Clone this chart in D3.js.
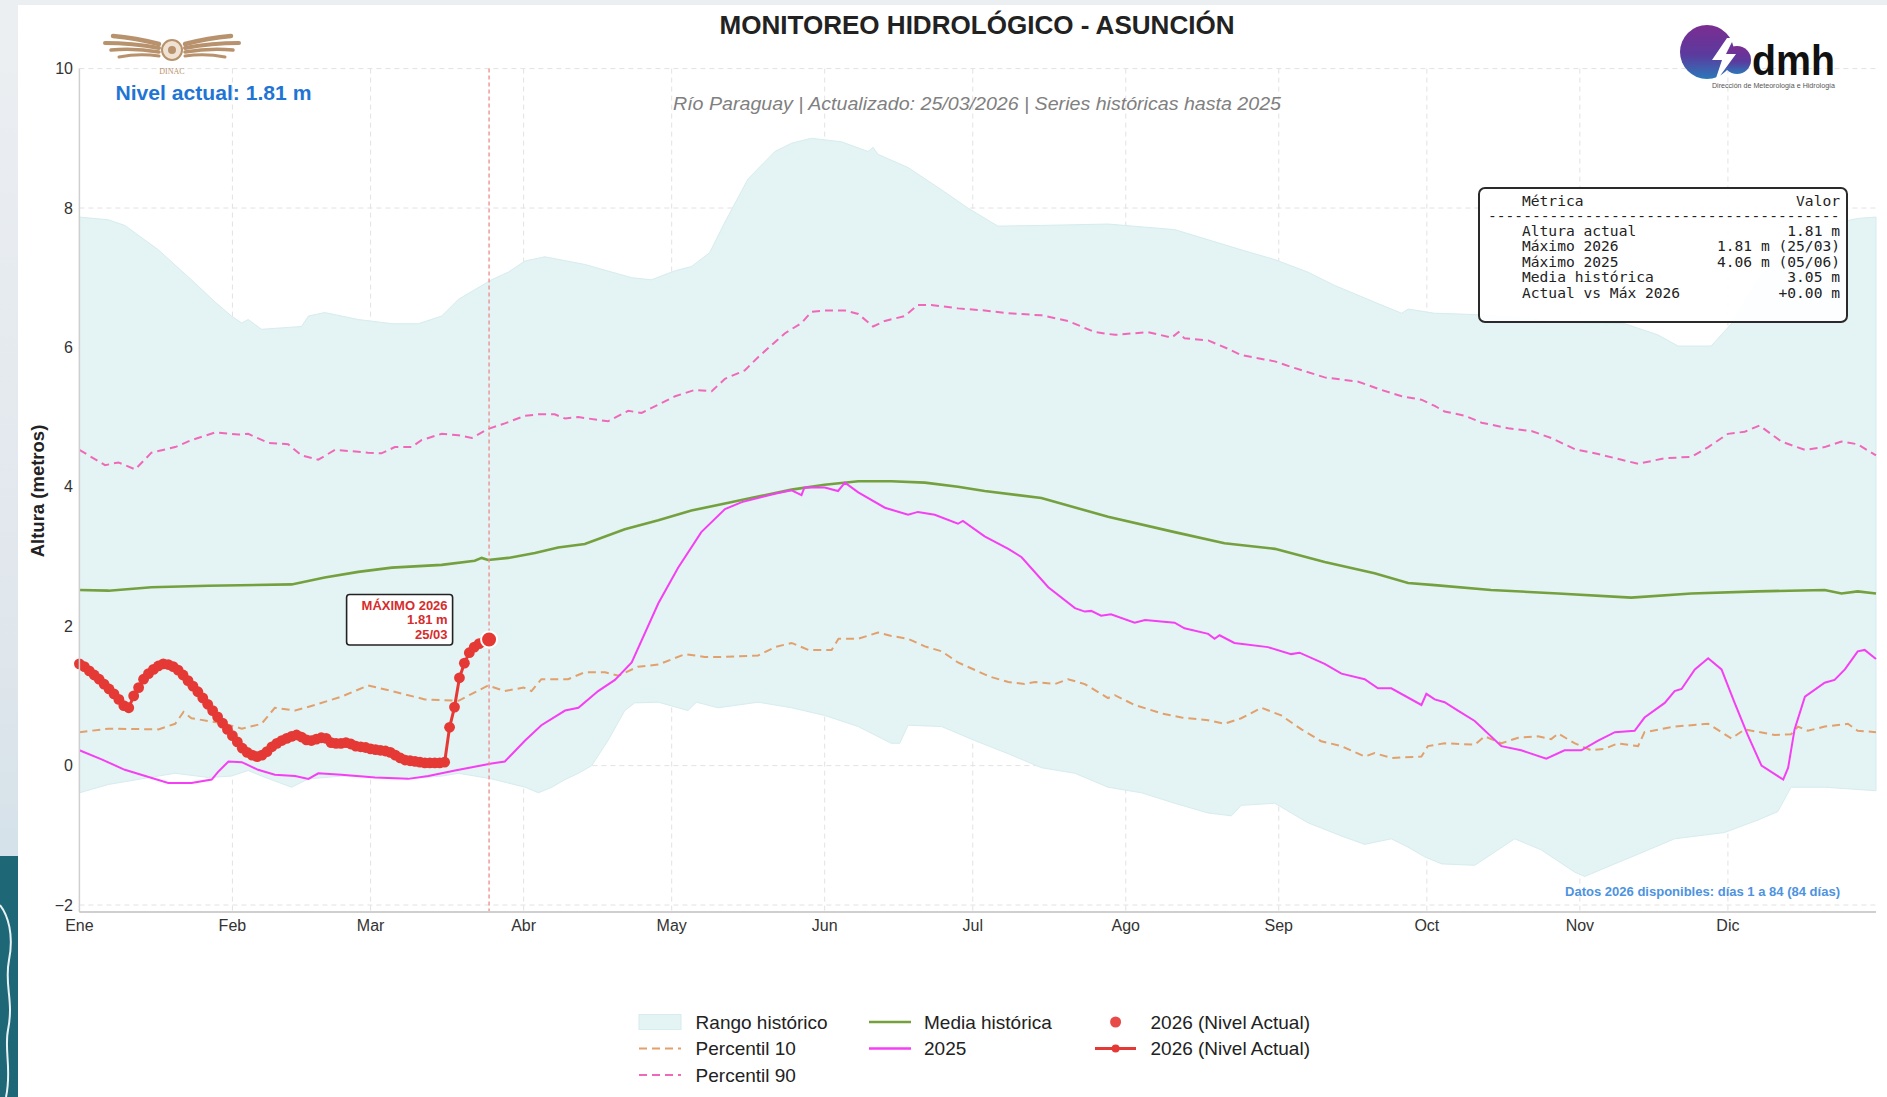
<!DOCTYPE html>
<html>
<head>
<meta charset="utf-8">
<script src="https://cdn.jsdelivr.net/npm/d3@7"></script>
<style>
  body { margin: 0; background: #eef1f4; }
  svg { display: block; }
</style>
</head>
<body>
<div id="chart-container"></div>
<script>
// dias del año (0 = 1 de enero) y niveles en metros
const monthNames = ["Ene", "Feb", "Mar", "Abr", "May", "Jun", "Jul", "Ago", "Sep", "Oct", "Nov", "Dic"];
const monthStarts = [0, 31, 59, 90, 120, 151, 181, 212, 243, 273, 304, 334];
const yTicks = [-2, 0, 2, 4, 6, 8, 10];

const rangoMax = [[0,7.87],[5.9,7.83],[9.2,7.75],[16,7.4],[22.7,6.97],[27.5,6.65],[30.8,6.45],[32.9,6.35],[34.2,6.4],[36.9,6.26],[45,6.3],[46.4,6.45],[49.7,6.5],[56.5,6.4],[63.3,6.34],[68.7,6.34],[73.4,6.45],[76.8,6.69],[83.5,6.97],[86.9,7.08],[90.3,7.24],[94.3,7.3],[102.4,7.19],[111.9,7.0],[115.9,6.97],[120.7,7.1],[124,7.16],[127.7,7.36],[130.8,7.8],[135.5,8.42],[140.9,8.81],[144.3,8.93],[148.3,9.0],[154.4,8.95],[159.8,8.81],[160.8,8.87],[161.8,8.77],[167.9,8.58],[174.7,8.26],[180,8.0],[186.1,7.74],[194.9,7.75],[208.4,7.77],[221.9,7.69],[235.4,7.4],[242.2,7.26],[248.9,7.08],[254.3,6.89],[262.4,6.65],[267.9,6.49],[269.2,6.55],[274.6,6.49],[279.3,6.48],[286,6.46],[292.8,6.42],[299.6,6.36],[313.1,6.34],[319.8,6.18],[323.9,6.02],[330.6,6.02],[334.7,6.34],[340.1,6.97],[346.8,7.52],[353.6,7.75],[360.3,7.85],[364,7.87]];
const rangoMin = [[0,-0.39],[5.9,-0.27],[12.6,-0.19],[19.4,-0.11],[26.1,-0.17],[30.8,-0.15],[34.2,-0.07],[36.9,-0.15],[43,-0.31],[46.4,-0.19],[53.1,-0.15],[59.9,-0.15],[66.6,-0.19],[73.4,-0.15],[76.8,-0.11],[83.5,-0.19],[90.3,-0.31],[93,-0.39],[95.7,-0.31],[98.4,-0.2],[101.1,-0.11],[103.8,0.0],[107.1,0.36],[110.5,0.79],[112.5,0.9],[117.3,0.91],[123.3,0.79],[125,0.91],[129.4,0.83],[137.5,0.91],[144.3,0.83],[151,0.72],[157.8,0.56],[164.5,0.32],[166.2,0.32],[167.9,0.58],[174.7,0.56],[181.4,0.36],[188.2,0.17],[194.9,-0.03],[201.7,-0.11],[208.4,-0.31],[215.2,-0.39],[221.9,-0.54],[228.7,-0.68],[233.4,-0.72],[235.4,-0.57],[242.2,-0.54],[248.9,-0.82],[255.7,-1.01],[260.4,-1.13],[265.8,-1.05],[269.2,-1.17],[272.6,-1.31],[276,-1.41],[282.7,-1.43],[290.8,-1.05],[296.2,-1.21],[303,-1.53],[305,-1.59],[309.7,-1.45],[316.5,-1.25],[323.2,-1.05],[333.3,-0.96],[340.1,-0.78],[344.1,-0.66],[346.8,-0.31],[353.6,-0.31],[364,-0.36]];
const percentil90 = [[0,4.53],[5.2,4.31],[7.9,4.35],[11.3,4.25],[14.6,4.49],[19.4,4.57],[22.7,4.67],[27.5,4.78],[32.2,4.75],[34.2,4.76],[38.3,4.63],[42.3,4.61],[45,4.45],[48.4,4.39],[51.8,4.53],[58.5,4.49],[61.2,4.48],[63.9,4.57],[67.3,4.57],[69.3,4.67],[73.4,4.76],[76.8,4.74],[79.5,4.7],[82.8,4.83],[86.2,4.91],[90.3,5.02],[93,5.04],[96.3,5.04],[98.4,4.98],[101.1,5.0],[107.1,4.94],[111.2,5.09],[113.9,5.06],[120.7,5.3],[124.7,5.39],[128.1,5.37],[130.8,5.55],[134.8,5.67],[137.5,5.86],[142.9,6.2],[146.3,6.35],[148.3,6.51],[151,6.53],[155.1,6.53],[157.8,6.48],[160.8,6.3],[163.2,6.38],[167.2,6.45],[169.9,6.61],[172.6,6.61],[178,6.56],[183.4,6.53],[188.2,6.49],[194.9,6.46],[200.3,6.38],[205.7,6.22],[209.8,6.18],[216.5,6.22],[221.3,6.14],[222.7,6.22],[223.9,6.13],[228.7,6.1],[232.7,5.98],[235.4,5.89],[242.2,5.8],[245.5,5.72],[252.3,5.57],[259,5.51],[263.8,5.39],[267.9,5.3],[271.9,5.25],[274.6,5.16],[276.6,5.08],[280.7,5.02],[284.1,4.92],[289.5,4.84],[294.2,4.8],[298.2,4.7],[303,4.54],[307.7,4.47],[315.8,4.33],[321.2,4.41],[326.6,4.43],[330,4.57],[334,4.76],[337.4,4.79],[340.4,4.88],[344.8,4.65],[349.6,4.53],[353.6,4.57],[357,4.65],[360.3,4.61],[364,4.45]];
const percentil10 = [[0,0.48],[5.9,0.53],[16,0.52],[19.4,0.6],[21.1,0.77],[22.7,0.68],[29.5,0.6],[32.9,0.53],[36.9,0.6],[39.6,0.83],[43.7,0.79],[47.7,0.87],[53.1,0.99],[58.5,1.15],[63.3,1.07],[70,0.95],[76.8,0.93],[79.5,1.03],[82.8,1.15],[86.2,1.07],[90,1.12],[91.6,1.07],[93.6,1.24],[99,1.24],[102.4,1.34],[106.5,1.34],[109.2,1.29],[113.2,1.42],[117.3,1.45],[122.7,1.6],[126.7,1.56],[130.8,1.56],[137.5,1.58],[140.9,1.7],[144.3,1.76],[147.7,1.66],[152.4,1.66],[153.8,1.82],[157.8,1.82],[161.8,1.91],[164.5,1.86],[167.9,1.82],[171.3,1.71],[174.7,1.64],[178,1.48],[183.4,1.31],[184.8,1.27],[188.2,1.2],[191.5,1.17],[193.6,1.2],[197.6,1.17],[200.3,1.24],[203.7,1.17],[208.4,0.97],[209.8,1.01],[213.8,0.87],[219.2,0.75],[223.3,0.69],[228.7,0.65],[232,0.6],[235.4,0.68],[239.5,0.83],[243.5,0.72],[247.6,0.52],[251.6,0.35],[255.7,0.28],[260.4,0.13],[262.4,0.18],[265.8,0.11],[271.9,0.13],[273.2,0.28],[276.6,0.32],[282.7,0.3],[284.7,0.42],[288.1,0.32],[291.5,0.4],[295.5,0.42],[298.2,0.38],[299.6,0.46],[303,0.32],[306.3,0.22],[309,0.24],[311.7,0.32],[315.8,0.28],[317.1,0.48],[323.2,0.56],[330,0.6],[334.7,0.39],[337.4,0.52],[343.5,0.44],[346.8,0.45],[348.2,0.56],[350.2,0.5],[353.6,0.56],[358.3,0.6],[360.3,0.5],[364,0.48]];
const mediaHistorica = [[0,2.52],[5.9,2.51],[14.6,2.56],[26.1,2.58],[43,2.6],[49.7,2.7],[56.5,2.78],[63.3,2.84],[73.4,2.88],[80.1,2.94],[81.5,2.98],[82.8,2.95],[86.9,2.98],[92.3,3.05],[97,3.13],[102.4,3.18],[110.5,3.39],[117.3,3.52],[124,3.66],[130.8,3.76],[137.5,3.86],[144.3,3.96],[151,4.03],[157.8,4.08],[164.5,4.08],[171.3,4.06],[178,4.0],[183.4,3.94],[194.9,3.84],[208.4,3.57],[221.9,3.35],[232,3.19],[242.2,3.11],[252.3,2.92],[262.4,2.76],[269.2,2.62],[274.6,2.59],[286,2.52],[299.6,2.47],[314.4,2.41],[326.6,2.47],[340.1,2.5],[353.6,2.52],[357,2.47],[360.3,2.5],[364,2.47]];
const serie2025 = [[0,0.22],[4.5,0.09],[9.2,-0.06],[18,-0.25],[22.7,-0.25],[26.8,-0.2],[28.1,-0.09],[30.2,0.06],[32.9,0.05],[36.2,-0.06],[39.6,-0.13],[43.7,-0.15],[46.4,-0.19],[48.4,-0.11],[53.1,-0.13],[59.9,-0.17],[66.6,-0.19],[70.7,-0.15],[76.1,-0.07],[83.5,0.03],[86.2,0.06],[90.3,0.36],[93.6,0.58],[98.4,0.79],[101.1,0.83],[105.1,1.07],[108.5,1.23],[111.9,1.48],[117.3,2.33],[121.3,2.84],[126,3.35],[130.8,3.68],[134.2,3.78],[140.9,3.9],[144.3,3.95],[146.3,3.88],[146.9,3.99],[151,3.99],[153.7,3.94],[155.1,4.06],[157.8,3.92],[163.2,3.7],[167.9,3.6],[169.9,3.64],[173.3,3.6],[178,3.47],[179,3.51],[183.4,3.29],[188.2,3.11],[190.9,2.99],[196.3,2.56],[201.7,2.26],[203.7,2.21],[205,2.22],[207,2.15],[209,2.17],[213.8,2.05],[215.9,2.09],[221.9,2.05],[223.9,1.97],[228.7,1.89],[230,1.82],[231,1.87],[234,1.76],[240.8,1.7],[245.5,1.6],[247.2,1.62],[252.3,1.46],[255.7,1.32],[260.4,1.24],[263.1,1.11],[265.8,1.11],[271.9,0.87],[272.9,1.03],[274.6,0.95],[276.6,0.91],[279.3,0.79],[282.7,0.64],[288.1,0.28],[292.1,0.22],[297.2,0.1],[300.9,0.22],[304.3,0.22],[307.7,0.36],[311.1,0.48],[315.1,0.5],[317.1,0.69],[321.2,0.9],[323.2,1.07],[324.6,1.1],[327.3,1.38],[330,1.54],[332.7,1.38],[335.3,0.91],[338,0.44],[340.8,0.0],[345.2,-0.2],[346.2,-0.03],[347.5,0.52],[349.6,0.99],[353.6,1.19],[355.6,1.23],[357.7,1.38],[360.3,1.64],[361.7,1.66],[364,1.53]];
// 2026: un valor por dia, dias 1 a 84
const nivel2026 = [1.46,1.42,1.36,1.30,1.24,1.17,1.10,1.03,0.95,0.86,0.83,1.00,1.12,1.24,1.32,1.38,1.43,1.46,1.45,1.42,1.37,1.30,1.22,1.14,1.06,0.97,0.88,0.79,0.70,0.61,0.52,0.43,0.34,0.25,0.19,0.15,0.13,0.15,0.20,0.27,0.32,0.36,0.39,0.42,0.44,0.41,0.37,0.36,0.38,0.40,0.39,0.33,0.32,0.32,0.33,0.31,0.28,0.27,0.26,0.24,0.23,0.22,0.21,0.19,0.15,0.11,0.08,0.07,0.06,0.05,0.04,0.04,0.04,0.04,0.05,0.55,0.84,1.26,1.47,1.62,1.70,1.75,1.78,1.81];

const tableRows = [["Altura actual", "1.81 m"], ["Máximo 2026", "1.81 m (25/03)"], ["Máximo 2025", "4.06 m (05/06)"], ["Media histórica", "3.05 m"], ["Actual vs Máx 2026", "+0.00 m"]];

const width = 1887;
const height = 1097;
const sans = "'Liberation Sans', Arial, sans-serif";

const svg = d3.select("#chart-container").append("svg")
    .attr("width", width)
    .attr("height", height);

// fondo de la pagina (franja izquierda y superior)
const defs = svg.append("defs");
const bgGrad = defs.append("linearGradient").attr("id", "bg").attr("x1", 0).attr("x2", 0).attr("y1", 0).attr("y2", 1);
bgGrad.append("stop").attr("offset", "0%").attr("stop-color", "#eceff2");
bgGrad.append("stop").attr("offset", "60%").attr("stop-color", "#dfe6ec");
bgGrad.append("stop").attr("offset", "100%").attr("stop-color", "#c9dce6");
svg.append("rect").attr("width", width).attr("height", height).attr("fill", "url(#bg)");
svg.append("rect").attr("x", 0).attr("y", 856).attr("width", 18).attr("height", 241).attr("fill", "#1e6776");
svg.append("path")
    .attr("d", "M0,905 C8,915 14,935 9,960 C4,985 14,1000 8,1030 C4,1050 12,1070 6,1097")
    .attr("fill", "none").attr("stroke", "#e6f2f4").attr("stroke-width", 2);
svg.append("rect").attr("x", 18).attr("y", 5).attr("width", width - 18).attr("height", height - 5).attr("fill", "#ffffff");

const x = d3.scaleLinear().domain([0, 364]).range([79.4, 1876]);
const y = d3.scaleLinear().domain([-2.1, 10]).range([912, 68.6]);

// rejilla
svg.append("g")
    .selectAll("line")
    .data(yTicks)
    .join("line")
    .attr("x1", x(0)).attr("x2", x(364))
    .attr("y1", d => y(d)).attr("y2", d => y(d))
    .attr("stroke", "#e2e2e2").attr("stroke-width", 1).attr("stroke-dasharray", "5,4");
svg.append("g")
    .selectAll("line")
    .data(monthStarts.slice(1))
    .join("line")
    .attr("x1", d => x(d)).attr("x2", d => x(d))
    .attr("y1", y(10)).attr("y2", y(-2.1))
    .attr("stroke", "#e2e2e2").attr("stroke-width", 1).attr("stroke-dasharray", "5,4");

// rango historico
const line = d3.line().x(d => x(d[0])).y(d => y(d[1]));
svg.append("path")
    .attr("d", line(rangoMax.concat(rangoMin.slice().reverse())) + "Z")
    .attr("fill", "#e4f3f4")
    .attr("stroke", "#d6ecee")
    .attr("stroke-width", 1);

svg.append("path")
    .attr("d", line(percentil10))
    .attr("fill", "none").attr("stroke", "#e2a06c").attr("stroke-width", 2)
    .attr("stroke-dasharray", "8,5");
svg.append("path")
    .attr("d", line(percentil90))
    .attr("fill", "none").attr("stroke", "#f069b8").attr("stroke-width", 2)
    .attr("stroke-dasharray", "8,5");
svg.append("path")
    .attr("d", line(mediaHistorica))
    .attr("fill", "none").attr("stroke", "#74a03e").attr("stroke-width", 2.6);
svg.append("path")
    .attr("d", line(serie2025))
    .attr("fill", "none").attr("stroke", "#f43ff4").attr("stroke-width", 2);

// linea de fecha actual
const today = nivel2026.length - 1;
svg.append("line")
    .attr("x1", x(today)).attr("x2", x(today))
    .attr("y1", y(10)).attr("y2", y(-2.1))
    .attr("stroke", "#f08a8a").attr("stroke-width", 1.3).attr("stroke-dasharray", "4,3");

// 2026
const pts2026 = nivel2026.map((v, i) => [i, v]);
svg.append("path")
    .attr("d", line(pts2026))
    .attr("fill", "none").attr("stroke", "#e53935").attr("stroke-width", 3);
svg.append("g")
    .selectAll("circle")
    .data(pts2026.slice(0, -1))
    .join("circle")
    .attr("cx", d => x(d[0])).attr("cy", d => y(d[1]))
    .attr("r", 5.4)
    .attr("fill", "#e53935");
svg.append("circle")
    .attr("cx", x(today)).attr("cy", y(nivel2026[today]))
    .attr("r", 8)
    .attr("fill", "#e53935").attr("stroke", "#ffffff").attr("stroke-width", 2);

// anotacion maximo
svg.append("rect")
    .attr("x", 346.6).attr("y", 594.5).attr("width", 106).attr("height", 50.5)
    .attr("rx", 3).attr("fill", "#ffffff").attr("stroke", "#222").attr("stroke-width", 1.6);
svg.append("g")
    .selectAll("text")
    .data(["MÁXIMO 2026", "1.81 m", "25/03"])
    .join("text")
    .attr("x", 447.6).attr("y", (d, i) => 609.5 + i * 14.5)
    .attr("text-anchor", "end")
    .style("font", `bold 13px ${sans}`)
    .attr("fill", "#d62c2c")
    .text(d => d);

// ejes
svg.append("line").attr("x1", x(0)).attr("x2", x(0)).attr("y1", y(10)).attr("y2", y(-2.1))
    .attr("stroke", "#cfcfcf").attr("stroke-width", 1.5);
svg.append("line").attr("x1", x(0)).attr("x2", x(364)).attr("y1", y(-2.1)).attr("y2", y(-2.1))
    .attr("stroke", "#cfcfcf").attr("stroke-width", 2);

svg.append("g")
    .selectAll("text")
    .data(yTicks)
    .join("text")
    .attr("x", 73).attr("y", d => y(d))
    .attr("dy", "0.35em")
    .attr("text-anchor", "end")
    .style("font", `16px ${sans}`)
    .attr("fill", "#333")
    .text(d => d < 0 ? "\u2212" + Math.abs(d) : d);

svg.append("g")
    .selectAll("text")
    .data(monthStarts)
    .join("text")
    .attr("x", d => x(d)).attr("y", 925)
    .attr("dy", "0.35em")
    .attr("text-anchor", "middle")
    .style("font", `16px ${sans}`)
    .attr("fill", "#333")
    .text((d, i) => monthNames[i]);

svg.append("text")
    .attr("transform", "translate(37,491) rotate(-90)")
    .attr("text-anchor", "middle")
    .attr("dominant-baseline", "central")
    .style("font", `bold 18.5px ${sans}`)
    .attr("fill", "#222")
    .text("Altura (metros)");

// titulos
svg.append("text")
    .attr("x", 977).attr("y", 34)
    .attr("text-anchor", "middle")
    .attr("textLength", 515).attr("lengthAdjust", "spacingAndGlyphs")
    .style("font", `bold 25px ${sans}`)
    .attr("fill", "#222")
    .text("MONITOREO HIDROLÓGICO - ASUNCIÓN");
svg.append("text")
    .attr("x", 977).attr("y", 110)
    .attr("text-anchor", "middle")
    .attr("textLength", 608).attr("lengthAdjust", "spacingAndGlyphs")
    .style("font", `italic 18px ${sans}`)
    .attr("fill", "#808080")
    .text("Río Paraguay | Actualizado: 25/03/2026 | Series históricas hasta 2025");
svg.append("text")
    .attr("x", 115.5).attr("y", 100)
    .attr("textLength", 196).attr("lengthAdjust", "spacingAndGlyphs")
    .style("font", `bold 21px ${sans}`)
    .attr("fill", "#1f74d4")
    .text("Nivel actual: 1.81 m");
svg.append("text")
    .attr("x", 1840).attr("y", 896)
    .attr("text-anchor", "end")
    .attr("textLength", 275).attr("lengthAdjust", "spacingAndGlyphs")
    .style("font", `bold 12px ${sans}`)
    .attr("fill", "#4d93e0")
    .text("Datos 2026 disponibles: días 1 a 84 (84 días)");

// tabla de metricas
const mono = "'DejaVu Sans Mono', monospace";
svg.append("rect")
    .attr("x", 1479).attr("y", 188).attr("width", 368).attr("height", 134)
    .attr("rx", 6).attr("fill", "#ffffff").attr("fill-opacity", 0.92)
    .attr("stroke", "#2a2a2a").attr("stroke-width", 2);
svg.append("text").attr("x", 1522).attr("y", 205.5).style("font", `14.6px ${mono}`).attr("fill", "#222").text("Métrica");
svg.append("text").attr("x", 1840).attr("y", 205.5).attr("text-anchor", "end").style("font", `14.6px ${mono}`).attr("fill", "#222").text("Valor");
svg.append("text").attr("x", 1488).attr("y", 220.5).style("font", `14.6px ${mono}`).attr("fill", "#222").text("-".repeat(40));
const rows = svg.append("g")
    .selectAll("g")
    .data(tableRows)
    .join("g")
    .attr("transform", (d, i) => `translate(0,${235.5 + i * 15.6})`);
rows.append("text").attr("x", 1522).style("font", `14.6px ${mono}`).attr("fill", "#222").text(d => d[0]);
rows.append("text").attr("x", 1840).attr("text-anchor", "end").style("font", `14.6px ${mono}`).attr("fill", "#222").text(d => d[1]);

// leyenda
const legendRows = [1022, 1048.5, 1075];
const leg = svg.append("g").style("font", `19px ${sans}`).attr("fill", "#222");
leg.append("rect").attr("x", 639).attr("y", legendRows[0] - 7.5).attr("width", 42).attr("height", 15)
    .attr("fill", "#e4f3f4").attr("stroke", "#d6ecee");
leg.append("line").attr("x1", 639).attr("x2", 681).attr("y1", legendRows[1]).attr("y2", legendRows[1])
    .attr("stroke", "#e2a06c").attr("stroke-width", 2).attr("stroke-dasharray", "8,5");
leg.append("line").attr("x1", 639).attr("x2", 681).attr("y1", legendRows[2]).attr("y2", legendRows[2])
    .attr("stroke", "#f069b8").attr("stroke-width", 2).attr("stroke-dasharray", "8,5");
leg.append("line").attr("x1", 869).attr("x2", 911).attr("y1", legendRows[0]).attr("y2", legendRows[0])
    .attr("stroke", "#74a03e").attr("stroke-width", 2.6);
leg.append("line").attr("x1", 869).attr("x2", 911).attr("y1", legendRows[1]).attr("y2", legendRows[1])
    .attr("stroke", "#f43ff4").attr("stroke-width", 2.6);
leg.append("circle").attr("cx", 1115.6).attr("cy", legendRows[0]).attr("r", 5.5).attr("fill", "#e84a47");
leg.append("line").attr("x1", 1095).attr("x2", 1136).attr("y1", legendRows[1]).attr("y2", legendRows[1])
    .attr("stroke", "#e53935").attr("stroke-width", 2.8);
leg.append("circle").attr("cx", 1115.6).attr("cy", legendRows[1]).attr("r", 4).attr("fill", "#e53935");
const legendTexts = [[695.6, 0, "Rango histórico"], [695.6, 1, "Percentil 10"], [695.6, 2, "Percentil 90"],
    [924, 0, "Media histórica"], [924, 1, "2025"], [1150.5, 0, "2026 (Nivel Actual)"], [1150.5, 1, "2026 (Nivel Actual)"]];
leg.selectAll("text")
    .data(legendTexts)
    .join("text")
    .attr("x", d => d[0]).attr("y", d => legendRows[d[1]])
    .attr("dy", "0.35em")
    .text(d => d[2]);

// logo DINAC (aproximado)
const dinac = svg.append("g").attr("fill", "none").attr("stroke", "#b8926c").attr("stroke-linecap", "round");
[[-1], [1]].forEach(([s]) => {
    [[44, 46, 4.5], [48, 54, 4], [52, 48, 3.5], [56, 40, 3]].forEach(([yy, len, w], i) => {
        dinac.append("path")
            .attr("d", `M${172 + s * 13},${yy} Q${172 + s * (13 + len / 2)},${yy - 6 + i} ${172 + s * (13 + len)},${yy - 8 + i * 3}`)
            .attr("stroke-width", w);
    });
});
dinac.append("circle").attr("cx", 172).attr("cy", 50).attr("r", 10).attr("stroke-width", 2).attr("fill", "#efe2d2");
dinac.append("circle").attr("cx", 172).attr("cy", 50).attr("r", 4).attr("fill", "#b8926c").attr("stroke", "none");
svg.append("text").attr("x", 172).attr("y", 74).attr("text-anchor", "middle")
    .style("font", "8px 'Liberation Serif', serif").attr("fill", "#b8926c").text("DINAC");

// logo dmh (aproximado)
const dmhGrad = defs.append("linearGradient").attr("id", "dmh").attr("x1", 0).attr("x2", 0).attr("y1", 0).attr("y2", 1);
dmhGrad.append("stop").attr("offset", "0%").attr("stop-color", "#7b2d91");
dmhGrad.append("stop").attr("offset", "55%").attr("stop-color", "#5b3a9e");
dmhGrad.append("stop").attr("offset", "100%").attr("stop-color", "#2c78b8");
svg.append("circle").attr("cx", 1707).attr("cy", 52).attr("r", 27).attr("fill", "url(#dmh)");
svg.append("circle").attr("cx", 1737).attr("cy", 60).attr("r", 14).attr("fill", "url(#dmh)");
svg.append("path").attr("d", "M1727,38 L1712,60 L1722,60 L1714,84 L1736,54 L1726,54 L1734,38 Z").attr("fill", "#ffffff");
svg.append("text").attr("x", 1752).attr("y", 75)
    .attr("textLength", 83).attr("lengthAdjust", "spacingAndGlyphs")
    .style("font", `bold 42px ${sans}`).attr("fill", "#111").text("dmh");
svg.append("text").attr("x", 1712).attr("y", 88)
    .attr("textLength", 123).attr("lengthAdjust", "spacingAndGlyphs")
    .style("font", `7px ${sans}`).attr("fill", "#555").text("Dirección de Meteorología e Hidrología");
</script>
</body>
</html>
